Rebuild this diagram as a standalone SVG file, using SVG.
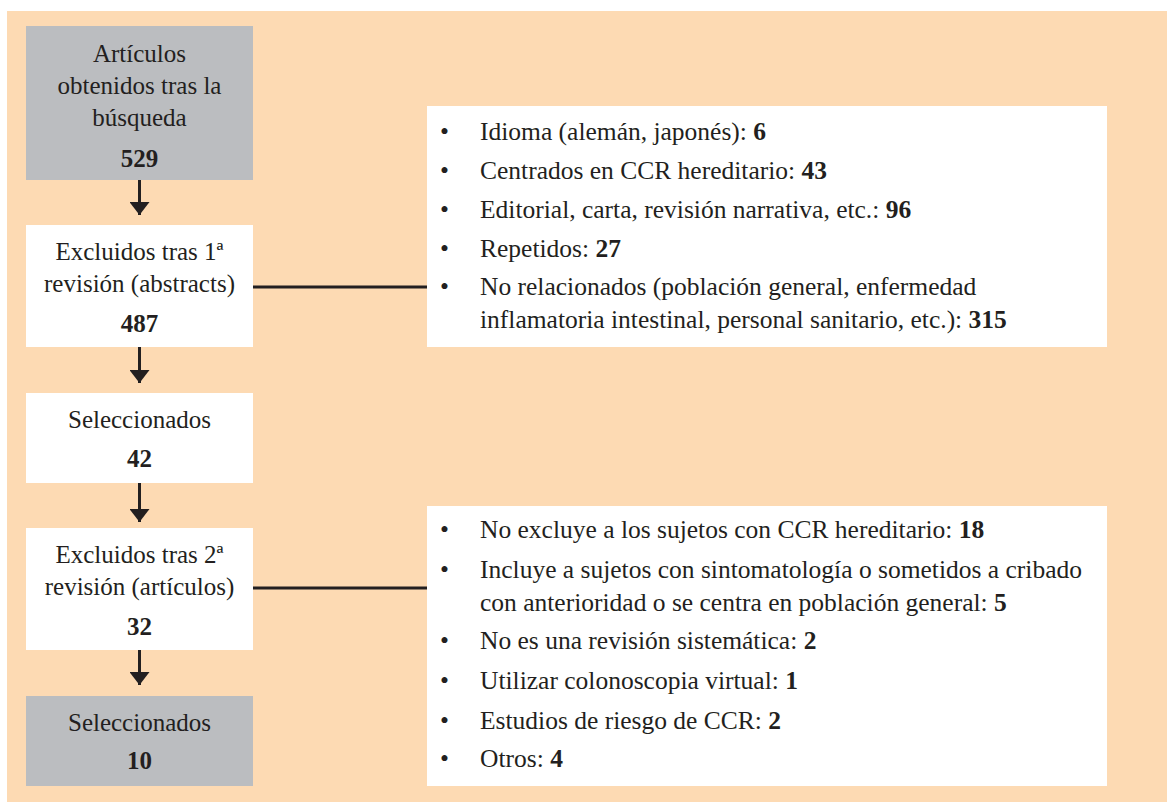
<svg xmlns="http://www.w3.org/2000/svg" width="1167" height="802" viewBox="0 0 1167 802">
<style>
text{font-family:"Liberation Serif","DejaVu Serif","Times New Roman",serif;font-size:25px;fill:#231F20}
.r text{font-size:25.5px}
.c{text-anchor:middle}
.b{font-weight:bold}
.g{fill:#BBBDC0}
.w{fill:#FFFFFF}
.ln{stroke:#231F20;stroke-width:3;fill:none}
</style>
<defs>
<marker id="ah" markerWidth="13" markerHeight="20" refX="13" refY="10" orient="auto" markerUnits="userSpaceOnUse" viewBox="0 0 13 20">
<path d="M0,0 L13,10 L0,20 Z" fill="#231F20"/>
</marker>
</defs>
<rect x="0" y="0" width="1167" height="802" fill="#FFFFFF"/>
<rect x="7" y="11" width="1160" height="791" fill="#FDDAB3"/>

<g id="connectors">
<line class="ln" x1="139.5" y1="180" x2="139.5" y2="215" marker-end="url(#ah)"/>
<line class="ln" x1="139.5" y1="347" x2="139.5" y2="383" marker-end="url(#ah)"/>
<line class="ln" x1="139.5" y1="483" x2="139.5" y2="522" marker-end="url(#ah)"/>
<line class="ln" x1="139.5" y1="650" x2="139.5" y2="685" marker-end="url(#ah)"/>
<line class="ln" x1="253" y1="287" x2="427" y2="287"/>
<line class="ln" x1="253" y1="588" x2="427" y2="588"/>
</g>

<g id="n1">
<rect class="g" x="26" y="26" width="227" height="154"/>
<text class="c" x="139.5" y="62">Artículos</text>
<text class="c" x="139.5" y="94">obtenidos tras la</text>
<text class="c" x="139.5" y="126">búsqueda</text>
<text class="c b" x="139.5" y="167">529</text>
</g>

<g id="n2">
<rect class="w" x="26" y="225" width="227" height="122"/>
<text class="c" x="139.5" y="260">Excluidos tras 1ª</text>
<text class="c" x="139.5" y="292">revisión (abstracts)</text>
<text class="c b" x="139.5" y="332">487</text>
</g>

<g id="n3">
<rect class="w" x="26" y="393" width="227" height="90"/>
<text class="c" x="139.5" y="428">Seleccionados</text>
<text class="c b" x="139.5" y="467">42</text>
</g>

<g id="n4">
<rect class="w" x="26" y="528" width="227" height="122"/>
<text class="c" x="139.5" y="563">Excluidos tras 2ª</text>
<text class="c" x="139.5" y="595">revisión (artículos)</text>
<text class="c b" x="139.5" y="635">32</text>
</g>

<g id="n5">
<rect class="g" x="26" y="696" width="227" height="90"/>
<text class="c" x="139.5" y="731">Seleccionados</text>
<text class="c b" x="139.5" y="769">10</text>
</g>

<g id="r1" class="r">
<rect class="w" x="427" y="106" width="680" height="241"/>
<text x="440" y="140">•</text><text x="480" y="140">Idioma (alemán, japonés): <tspan class="b">6</tspan></text>
<text x="440" y="179">•</text><text x="480" y="179">Centrados en CCR hereditario: <tspan class="b">43</tspan></text>
<text x="440" y="218">•</text><text x="480" y="218">Editorial, carta, revisión narrativa, etc.: <tspan class="b">96</tspan></text>
<text x="440" y="257">•</text><text x="480" y="257">Repetidos: <tspan class="b">27</tspan></text>
<text x="440" y="295">•</text><text x="480" y="295">No relacionados (población general, enfermedad</text>
<text x="480" y="328">inflamatoria intestinal, personal sanitario, etc.): <tspan class="b">315</tspan></text>
</g>

<g id="r2" class="r">
<rect class="w" x="427" y="506" width="680" height="280"/>
<text x="440" y="538">•</text><text x="480" y="538">No excluye a los sujetos con CCR hereditario: <tspan class="b">18</tspan></text>
<text x="440" y="578">•</text><text x="480" y="578">Incluye a sujetos con sintomatología o sometidos a cribado</text>
<text x="480" y="611">con anterioridad o se centra en población general: <tspan class="b">5</tspan></text>
<text x="440" y="649">•</text><text x="480" y="649">No es una revisión sistemática: <tspan class="b">2</tspan></text>
<text x="440" y="689">•</text><text x="480" y="689">Utilizar colonoscopia virtual: <tspan class="b">1</tspan></text>
<text x="440" y="729">•</text><text x="480" y="729">Estudios de riesgo de CCR: <tspan class="b">2</tspan></text>
<text x="440" y="767">•</text><text x="480" y="767">Otros: <tspan class="b">4</tspan></text>
</g>
</svg>
